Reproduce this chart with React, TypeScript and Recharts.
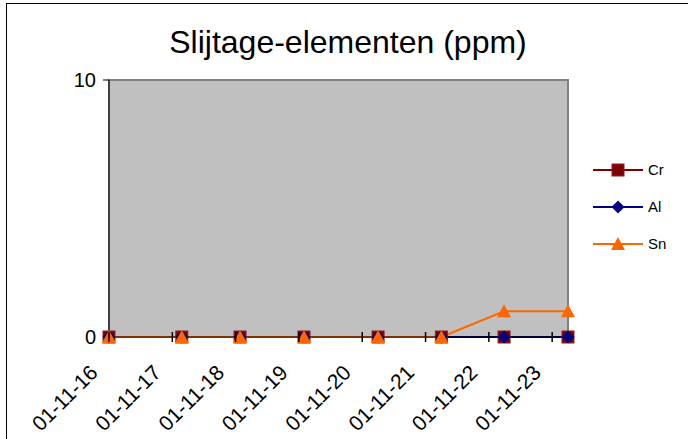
import {
	CartesianGrid,
	Line,
	LineChart,
	ReferenceArea,
	XAxis,
	YAxis,
} from "recharts";

// sample moments as fractional day-of-month (Nov 2001)
const sampleDays = [16.0, 17.15, 18.07, 19.08, 20.25, 21.25, 22.24, 23.25];
const crValues = [0, 0, 0, 0, 0, 0, 0, 0];
const alValues = [0, 0, 0, 0, 0, 0, 0, 0];
const snValues = [0, 0, 0, 0, 0, 0, 1, 1];
const dayTicks = [16, 17, 18, 19, 20, 21, 22, 23];
const dayLabels = [
	"01-11-16",
	"01-11-17",
	"01-11-18",
	"01-11-19",
	"01-11-20",
	"01-11-21",
	"01-11-22",
	"01-11-23",
];
const yTicks = [0, 10];

const series = [
	{ key: "cr", name: "Cr", color: "#800000", marker: "square" },
	{ key: "al", name: "Al", color: "#000080", marker: "diamond" },
	{ key: "sn", name: "Sn", color: "#FF6600", marker: "triangle" },
];

const data = sampleDays.map((day, i) => ({
	day,
	cr: crValues[i],
	al: alValues[i],
	sn: snValues[i],
}));

const font = '"Liberation Sans", Arial, sans-serif';

function Marker({ cx, cy, kind, color }: any) {
	if (cx == null || cy == null) return null;
	if (kind === "square") {
		return <rect x={cx - 6} y={cy - 6} width={12} height={12} fill={color} stroke="#8a2020" strokeWidth={1} />;
	}
	if (kind === "diamond") {
		return (
			<polygon
				points={`${cx},${cy - 6.5} ${cx + 6.5},${cy} ${cx},${cy + 6.5} ${cx - 6.5},${cy}`}
				fill={color}
			/>
		);
	}
	return (
		<polygon
			points={`${cx},${cy - 7} ${cx + 7},${cy + 6} ${cx - 7},${cy + 6}`}
			fill={color}
		/>
	);
}

function DayTick({ x, y, payload }: any) {
	const idx = dayTicks.indexOf(payload.value);
	return (
		<g>
			<line x1={x} x2={x} y1={y - 5} y2={y + 5} stroke="#000" strokeWidth={1.5} />
			<text
				x={0}
				y={0}
				transform={`translate(${x - 10},${y + 37}) rotate(-45)`}
				textAnchor="end"
				fontSize={21}
				fontFamily={font}
				fill="#000"
			>
				{dayLabels[idx]}
			</text>
		</g>
	);
}

function LegendBox() {
	return (
		<div style={{ fontFamily: font, fontSize: 15 }}>
			{series.map((s) => (
				<div key={s.key} style={{ display: "flex", alignItems: "center", height: 37 }}>
					<svg width={54} height={16}>
						<line x1={2} x2={52} y1={8} y2={8} stroke={s.color} strokeWidth={2} />
						<Marker cx={27} cy={8} kind={s.marker} color={s.color} />
					</svg>
					<span style={{ marginLeft: 3 }}>{s.name}</span>
				</div>
			))}
		</div>
	);
}

export default function App() {
	return (
		<div
			style={{
				position: "absolute",
				left: 0,
				top: 0,
				width: 688,
				height: 439,
				overflow: "hidden",
				background: "#fff",
			}}
		>
			<div
				style={{
					position: "absolute",
					left: 6,
					top: 3,
					width: 720,
					height: 480,
					border: "1px solid #000",
				}}
			/>
			<div
				style={{
					position: "absolute",
					left: 0,
					width: 696,
					top: 26,
					textAlign: "center",
					fontFamily: font,
					fontSize: 32,
					lineHeight: "32px",
				}}
			>
				Slijtage-elementen (ppm)
			</div>
			<div style={{ position: "absolute", left: 591, top: 151, width: 90 }}>
				<LegendBox />
			</div>
			<div style={{ position: "absolute", left: 0, top: 0 }}>
				<LineChart
					width={688}
					height={439}
					data={data}
					margin={{ top: 80, right: 120, bottom: 0, left: 0 }}
				>
					<CartesianGrid horizontal={false} vertical={false} fill="#c0c0c0" />
					<ReferenceArea y1={0} y2={10} fill="none" stroke="#808080" strokeWidth={2} />
					<XAxis
						dataKey="day"
						type="number"
						domain={["dataMin", "dataMax"]}
						ticks={dayTicks}
						interval={0}
						height={102}
						tickSize={0}
						tickMargin={0}
						tickLine={false}
						axisLine={{ stroke: "#000", strokeWidth: 1 }}
						tick={<DayTick />}
					/>
					<YAxis
						domain={[0, 10]}
						ticks={yTicks}
						width={109}
						tickSize={6}
						tickMargin={7}
						axisLine={{ stroke: "#000", strokeWidth: 1 }}
						tickLine={{ stroke: "#000", strokeWidth: 1 }}
						tick={{ fill: "#000", fontSize: 20, fontFamily: font }}
					/>
					{series.map((s) => (
						<Line
							key={s.key}
							dataKey={s.key}
							name={s.name}
							stroke={s.color}
							strokeWidth={2}
							type="linear"
							isAnimationActive={false}
							dot={(p: any) => (
								<Marker key={`${s.key}-${p.index}`} cx={p.cx} cy={p.cy} kind={s.marker} color={s.color} />
							)}
							activeDot={false}
						/>
					))}
				</LineChart>
			</div>
		</div>
	);
}
